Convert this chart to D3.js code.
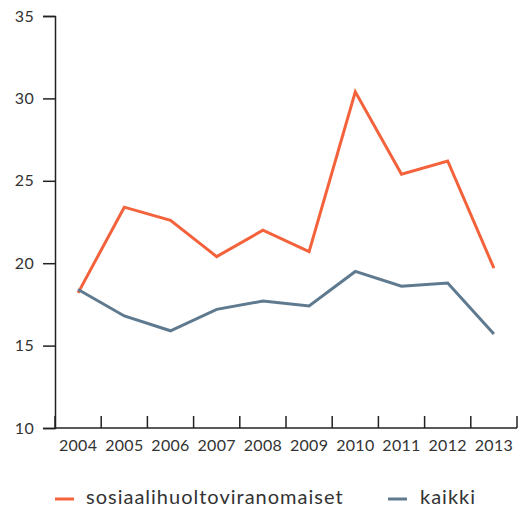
<!DOCTYPE html>
<html><head><meta charset="utf-8">
<script src="https://cdn.jsdelivr.net/npm/d3@7"></script>
<style>body{margin:0;background:#fff}svg{display:block}text{font-family:Lato,"Open Sans",sans-serif;fill:#333}</style>
</head><body><svg id="c" width="526" height="510"></svg>
<script>
const years = ["2004","2005","2006","2007","2008","2009","2010","2011","2012","2013"];
const sosiaali = [18.2,23.4,22.6,20.4,22.0,20.7,30.4,25.4,26.2,19.7];
const kaikki = [18.4,16.8,15.9,17.2,17.7,17.4,19.5,18.6,18.8,15.7];
const yTicks = [10,15,20,25,30,35];
const seriesNames = ["sosiaalihuoltoviranomaiset","kaikki"];
const colors = ["#f4623c","#5f7a8f"];

const svg = d3.select("#c");
const x = d3.scaleBand().domain(years).range([55,517]);
const y = d3.scaleLinear().domain([10,35]).range([428,16]);

const ya = svg.append("g").attr("transform","translate(55,0)")
  .call(d3.axisLeft(y).tickValues(yTicks).tickSize(12).tickPadding(9));
const xa = svg.append("g").attr("transform","translate(0,428)")
  .call(d3.axisBottom(x).tickSize(0).tickPadding(12));
const bounds = years.map(d=>x(d)).concat([x.range()[1]]);
svg.append("g").selectAll("line").data(bounds).join("line")
  .attr("x1",d=>d).attr("x2",d=>d).attr("y1",428).attr("y2",416)
  .attr("stroke","#222").attr("stroke-width",1.5);
[ya,xa].forEach(a=>{
  a.selectAll("path,line").attr("stroke","#222").attr("stroke-width",1.5);
  a.selectAll("text").style("font-size","16px").style("letter-spacing","0.3px").attr("fill","#333");
});
xa.select("path").attr("d","M55,0H517");

const line = d3.line().x((d,i)=>x(years[i])+x.bandwidth()/2).y(d=>y(d));
[sosiaali,kaikki].forEach((s,i)=>{
  svg.append("path").datum(s).attr("d",line).attr("fill","none")
    .attr("stroke",colors[i]).attr("stroke-width",3);
});

const leg = [{x:55,tx:86},{x:388,tx:420}];
seriesNames.forEach((n,i)=>{
  svg.append("line").attr("x1",leg[i].x).attr("x2",leg[i].x+19).attr("y1",499).attr("y2",499)
    .attr("stroke",colors[i]).attr("stroke-width",3);
  svg.append("text").attr("x",leg[i].tx).attr("y",504).text(n)
    .style("font-size","20px").style("letter-spacing","1px");
});
</script></body></html>
